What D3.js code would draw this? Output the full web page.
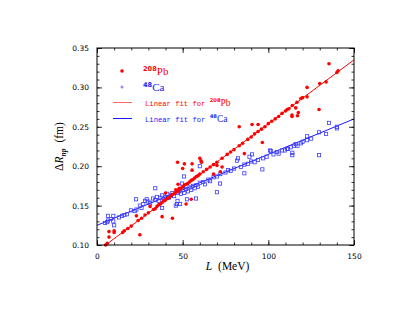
<!DOCTYPE html>
<html>
<head>
<meta charset="utf-8">
<script src="https://cdn.jsdelivr.net/npm/d3@7"></script>
<style>
  body { margin: 0; background: #fff; }
  svg { display: block; }
</style>
</head>
<body>
<svg id="chart" width="415" height="321"></svg>
<script>
// 208Pb points: [L (MeV), dRnp (fm)]
var pbPoints = [
  [5,0.100],[6,0.102],[7,0.117],[7,0.110],[10,0.118],[10,0.116],[15,0.116],[16,0.118],[18,0.121],
  [20,0.124],[23,0.137],[24,0.131],[25,0.113],[26,0.134],[28,0.138],[30,0.141],[31,0.149],[33,0.145],
  [34,0.146],[35,0.149],[36,0.151],[37,0.152],[38,0.136],[38,0.154],[39,0.156],[40,0.166],[40,0.157],
  [41,0.159],[42,0.160],[43,0.162],[44,0.134],[44,0.164],[45,0.165],[46,0.167],[46,0.170],[47,0.168],
  [47,0.205],[47.3,0.177],[48,0.170],[48,0.172],[49,0.172],[50,0.197],[50,0.174],[51,0.203],[51,0.176],
  [52,0.152],[52,0.177],[53,0.178],[54,0.180],[55,0.158],[55,0.182],[55.5,0.203],[55.5,0.195],[56,0.183],
  [57,0.185],[58,0.187],[59,0.188],[60,0.210],[60,0.190],[60.7,0.207],[61,0.205],[62,0.193],[64,0.196],
  [66,0.199],[68,0.190],[68,0.202],[70,0.201],[70,0.205],[72,0.193],[73,0.199],[73,0.210],[76,0.215],
  [78,0.218],[80,0.221],[83,0.250],[83,0.226],[85,0.229],[86,0.216],[88,0.234],[90,0.237],[90.5,0.253],
  [92,0.241],[94,0.253],[94,0.244],[96,0.247],[96.5,0.230],[98,0.250],[100,0.254],[102,0.257],[104,0.260],
  [106,0.263],[108,0.267],[110,0.270],[111,0.272],[112,0.273],[113.8,0.265],[113.8,0.263],[114,0.277],
  [116,0.274],[116.7,0.281],[117,0.264],[117.5,0.268],[119,0.286],[120,0.287],[122.6,0.288],[122.6,0.300],
  [129.6,0.272],[130,0.305],[133.7,0.307],[135.4,0.330],[140,0.319],[140.7,0.321]
];

// 48Ca points
var caPoints = [
  [4.7,0.128],[6,0.129],[6.4,0.137],[6.4,0.131],[8,0.133],[9.5,0.137],[9.5,0.130],[10,0.125],[12.8,0.135],
  [14.6,0.137],[16,0.138],[17.5,0.139],[19.8,0.144],[22,0.143],[22.8,0.158],[23,0.145],[25,0.150],
  [26,0.147],[27,0.152],[28,0.156],[29,0.158],[30,0.155],[31,0.153],[32.7,0.159],[34,0.172],[34,0.157],
  [35,0.161],[36,0.156],[37,0.160],[38,0.147],[38,0.163],[39,0.158],[40,0.161],[41,0.165],[42,0.160],
  [43,0.163],[44,0.166],[45,0.162],[46,0.150],[46.7,0.152],[47,0.156],[47,0.166],[48,0.168],[48.5,0.152],
  [49,0.165],[49.6,0.178],[50,0.170],[50.8,0.187],[51,0.166],[52,0.171],[52.5,0.158],[53,0.168],[54,0.173],
  [55,0.170],[56,0.175],[57,0.172],[57.8,0.159],[58,0.176],[59,0.174],[60,0.200],[60,0.179],[62,0.180],
  [63,0.177],[65,0.183],[66,0.181],[68,0.186],[70,0.167],[70,0.187],[71.8,0.178],[72,0.190],[75,0.192],
  [76.5,0.195],[78,0.194],[80,0.197],[81.7,0.207],[82.3,0.210],[84,0.199],[86,0.191],[86,0.202],[88,0.203],
  [89,0.212],[90,0.206],[90.5,0.215],[92,0.205],[94,0.208],[96.5,0.196],[97,0.210],[99,0.212],[101,0.220],
  [101.6,0.219],[103,0.215],[105,0.218],[106,0.216],[108,0.220],[109.7,0.220],[111,0.222],[111.5,0.222],
  [113,0.224],[114,0.217],[114,0.214],[115,0.226],[116,0.228],[117,0.226],[119,0.229],[120,0.231],
  [122.6,0.238],[122.6,0.233],[125,0.235],[129.6,0.243],[129.6,0.214],[133.7,0.241],[135.4,0.255],
  [140,0.250],[140,0.248]
];

// linear fits: [L, dRnp] end points
var pbFit = [[5, 0.1000], [150, 0.3350]];
var caFit = [[0, 0.1250], [150, 0.2600]];

var xTicks = [0, 50, 100, 150];
var yTicks = [0.10, 0.15, 0.20, 0.25, 0.30, 0.35];

(function () {
  var svg = d3.select("#chart");
  var margin = {left: 97, right: 61, top: 48, bottom: 76};
  var W = 415, H = 321;

  var x = d3.scaleLinear().domain([0, 150]).range([margin.left, W - margin.right]);
  var y = d3.scaleLinear().domain([0.10, 0.35]).range([H - margin.bottom, margin.top]);

  var red = "#ff0000", blue = "#1a1aff";

  var plot = svg.append("g");
  svg.append("clipPath").attr("id", "clip")
    .append("rect").attr("x", x(0)).attr("y", y(0.35))
    .attr("width", x(150) - x(0)).attr("height", y(0.10) - y(0.35));

  var line = d3.line().x(function (d) { return x(d[0]); }).y(function (d) { return y(d[1]); });

  plot.append("path").datum(pbFit).attr("d", line)
    .attr("stroke", red).attr("stroke-width", 1).attr("fill", "none").attr("clip-path", "url(#clip)");
  plot.append("path").datum(caFit).attr("d", line)
    .attr("stroke", blue).attr("stroke-width", 1).attr("fill", "none").attr("clip-path", "url(#clip)");

  plot.selectAll(".ca").data(caPoints).enter().append("rect")
    .attr("class", "ca")
    .attr("x", function (d) { return x(d[0]) - 1.6; })
    .attr("y", function (d) { return y(d[1]) - 1.6; })
    .attr("width", 3.2).attr("height", 3.2)
    .attr("fill", "none").attr("stroke", "#3b3bff").attr("stroke-width", 0.8);

  plot.selectAll(".pb").data(pbPoints).enter().append("circle")
    .attr("class", "pb")
    .attr("cx", function (d) { return x(d[0]); })
    .attr("cy", function (d) { return y(d[1]); })
    .attr("r", 1.8).attr("fill", red);

  // axes with inward ticks on all sides
  var tickFont = "'DejaVu Sans', sans-serif";
  function styleAxis(g) {
    g.select(".domain").remove();
    g.selectAll("line").attr("stroke", "#000").attr("stroke-width", 0.8);
    g.selectAll("text").attr("font-family", tickFont).attr("font-size", 7.5).attr("fill", "#000");
  }
  function addAxis(axis, tx, ty) {
    var g = svg.append("g").attr("transform", "translate(" + tx + "," + ty + ")").call(axis);
    styleAxis(g);
  }

  addAxis(d3.axisBottom(x).tickValues(xTicks).tickSize(-5).tickPadding(9).tickFormat(d3.format("d")), 0, y(0.10));
  addAxis(d3.axisBottom(x).ticks(15).tickSize(-2.5).tickFormat(""), 0, y(0.10));
  addAxis(d3.axisTop(x).tickValues(xTicks).tickSize(-5).tickFormat(""), 0, y(0.35));
  addAxis(d3.axisTop(x).ticks(15).tickSize(-2.5).tickFormat(""), 0, y(0.35));
  addAxis(d3.axisLeft(y).tickValues(yTicks).tickSize(-5).tickPadding(8).tickFormat(d3.format(".2f")), x(0), 0);
  addAxis(d3.axisLeft(y).ticks(25).tickSize(-2.5).tickFormat(""), x(0), 0);
  addAxis(d3.axisRight(y).tickValues(yTicks).tickSize(-5).tickFormat(""), x(150), 0);
  addAxis(d3.axisRight(y).ticks(25).tickSize(-2.5).tickFormat(""), x(150), 0);

  svg.append("rect")
    .attr("x", x(0)).attr("y", y(0.35))
    .attr("width", x(150) - x(0)).attr("height", y(0.10) - y(0.35))
    .attr("fill", "none").attr("stroke", "#000").attr("stroke-width", 1);

  // axis titles
  var serif = "'Liberation Serif', 'DejaVu Serif', serif";
  var xt = svg.append("text")
    .attr("x", (x(0) + x(150)) / 2 + 2).attr("y", 270)
    .attr("text-anchor", "middle").attr("font-family", serif).attr("font-size", 11.5);
  xt.append("tspan").attr("font-style", "italic").text("L");
  xt.append("tspan").attr("dx", 6).text("(MeV)");

  var yt = svg.append("text")
    .attr("transform", "translate(63," + ((y(0.10) + y(0.35)) / 2) + ") rotate(-90)")
    .attr("text-anchor", "middle").attr("font-family", serif).attr("font-size", 11.5);
  yt.append("tspan").text("Δ");
  yt.append("tspan").attr("font-style", "italic").text("R");
  yt.append("tspan").attr("font-style", "italic").attr("font-size", 7.5).attr("font-weight", "bold").attr("dy", 3).text("np");
  yt.append("tspan").attr("dy", -3).attr("dx", 6).text("(fm)");

  // legend
  var leg = svg.append("g");
  leg.append("circle").attr("cx", 122).attr("cy", 71).attr("r", 1.8).attr("fill", red);
  leg.append("circle").attr("cx", 122).attr("cy", 87).attr("r", 1.5).attr("fill", "#8c8cff");
  leg.append("line").attr("x1", 113).attr("x2", 132).attr("y1", 102.5).attr("y2", 102.5)
    .attr("stroke", "#ff6666").attr("stroke-width", 1);
  leg.append("line").attr("x1", 113).attr("x2", 132).attr("y1", 118.5).attr("y2", 118.5)
    .attr("stroke", blue).attr("stroke-width", 1);

  var sans = "'DejaVu Sans', sans-serif";
  function nucleus(t, mass, sym, size) {
    t.append("tspan").attr("font-size", size * 0.6).attr("font-family", sans)
      .attr("font-weight", "bold").attr("dy", -4).text(mass);
    t.append("tspan").attr("dy", 4).text(sym);
  }
  var t1 = leg.append("text").attr("x", 143).attr("y", 75).attr("fill", red)
    .attr("font-family", serif).attr("font-size", 11);
  nucleus(t1, "208", "Pb", 11);
  var t2 = leg.append("text").attr("x", 143).attr("y", 91).attr("fill", blue)
    .attr("font-family", serif).attr("font-size", 11);
  nucleus(t2, "48", "Ca", 11);

  var mono = "'Liberation Mono', 'DejaVu Sans Mono', monospace";
  function fitLabel(yy, color, mass, sym) {
    var t = leg.append("text").attr("x", 145).attr("y", yy).attr("fill", color)
      .attr("font-family", mono).attr("font-size", 7.2);
    t.append("tspan").text("Linear fit for ");
    t.append("tspan").attr("font-size", 5.2).attr("font-family", sans)
      .attr("font-weight", "bold").attr("dy", -3.5).text(mass);
    t.append("tspan").attr("dy", 3.5).attr("font-family", serif).attr("font-size", 9.5).text(sym);
  }
  fitLabel(105.5, red, "208", "Pb");
  fitLabel(121.5, blue, "48", "Ca");
})();
</script>
</body>
</html>
